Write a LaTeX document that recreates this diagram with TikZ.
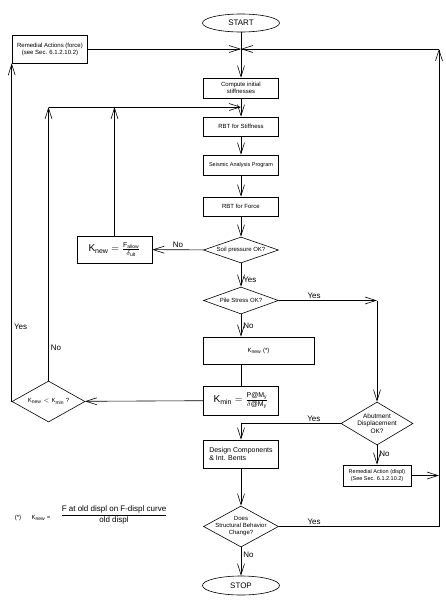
\documentclass[tikz,border=0pt]{standalone}
\usepackage{fontspec}
\setmainfont{Liberation Sans}
\usepackage{amsmath}
\usetikzlibrary{shapes.geometric,arrows.meta}

\newcommand{\sz}[2]{\fontsize{#1}{#2}\selectfont}

\begin{document}
\begin{tikzpicture}[x=1pt,y=-1pt,
  line width=0.6pt,
  >={Straight Barb[length=11pt,width=7pt]},
  block/.style={draw, rectangle, minimum width=75pt, minimum height=20pt,
    inner sep=1pt, align=center, font=\sz{6}{7}},
  decision/.style={draw, diamond, minimum width=75pt, minimum height=27pt,
    inner sep=0pt},
  dtext/.style={align=center, font=\sz{6}{7}, inner sep=0pt},
  terminal/.style={draw, ellipse, minimum width=77pt, minimum height=18pt,
    inner sep=0pt, font=\sz{8}{9}},
  tag/.style={font=\sz{8}{9}, inner sep=2pt},
  ]
  \useasboundingbox (0,0) rectangle (446,600);

  % main column
  \node[terminal] (start) at (241,23) {START};
  \node[block, minimum height=28pt] (remforce) at (50,49)
    {Remedial Actions (force)\\(see Sec. 6.1.2.10.2)};
  \node[block] (compute) at (241,88) {Compute initial\\stiffnesses};
  \node[block, minimum height=19pt] (rbts) at (241,126.5) {RBT for Stiffness};
  \node[block, font=\sz{5.5}{6.5}] (seismic) at (241,165) {Seismic Analysis Program};
  \node[block, minimum height=19pt] (rbtf) at (241,206.5) {RBT for Force};
  \node[decision, minimum height=26pt,
    label={[dtext]center:Soil pressure OK?}] (soil) at (241,250) {};
  \node[block, minimum height=27pt, font=\sz{10}{12}] (knew) at (114.5,249.5)
    {$\text{K}_{\text{new}} = \frac{\text{F}_{\text{allow}}}{\delta_{\text{ult}}}$};
  \node[decision, label={[dtext]center:Pile Stress OK?}] (pile) at (241,300.5) {};
  \node[block, minimum width=111pt, minimum height=27pt] (knewstar) at (258.5,350.5)
    {$\text{K}_{\text{new}}$ (*)};
  \node[block, minimum height=29pt, font=\sz{10}{12}] (kmin) at (241,400.5)
    {$\text{K}_{\text{min}} = \frac{\text{P@M}_{\text{y}}}{\delta\text{@M}_{\text{y}}}$};
  \node[decision, minimum width=73pt, minimum height=41pt,
    label={[dtext]center:$\text{K}_{\text{new}} < \text{K}_{\text{min}}$ ?}] (kcheck) at (48.5,401.5) {};
  \node[decision, minimum width=72pt, minimum height=43pt,
    label={[dtext, font=\sz{6.5}{7.5}]center:Abutment\\Displacement\\OK?}] (abut) at (377,423.5) {};
  \node[block, minimum height=28pt, align=left, font=\sz{7}{8}] (design) at (241,454)
    {Design Components\\\& Int. Bents};
  \node[block, minimum width=68pt, minimum height=21pt, font=\sz{5.5}{6.5}] (remdisp) at (377,475.5)
    {Remedial Action (displ)\\(See Sec. 6.1.2.10.2)};
  \node[decision, minimum height=41pt,
    label={[dtext]center:Does\\Structural Behavior\\Change?}] (struct) at (241,526.5) {};
  \node[terminal, minimum height=19pt] (stop) at (241,585.5) {STOP};

  % footnote
  \node[font=\sz{6}{7}] (fnmark) at (18,518) {(*)};
  \node[font=\sz{6}{7}] (fnk) at (41,518) {$\text{K}_{\text{new}}$ =};
  \node[font=\sz{8}{10}] (fnfrac) at (114,515)
    {$\dfrac{\text{F at old displ on F-displ curve}}{\text{old displ}}$};

  % corners of the loops
  \coordinate (topin) at (241,49);
  \coordinate (loopin) at (241,107);
  \coordinate (rcorner) at (439,49);
  \coordinate (pcorner) at (377,300.5);

  % connectors
  \draw[->] (start) -- (compute);
  \draw[->] (remforce) -- (topin);
  \draw[->] (rcorner) -- (topin);
  \draw[->] (compute) -- (rbts);
  \draw[->] (rbts) -- (seismic);
  \draw[->] (seismic) -- (rbtf);
  \draw[->] (rbtf) -- (soil);
  \draw[->] (soil) -- node[tag, above] {No} (knew);
  \draw[->] (soil) -- node[tag, pos=0.7, right] {Yes} (pile);
  \draw[->] (pile) -- node[tag, pos=0.36, above] {Yes} (pcorner);
  \draw[->] (pcorner) -- (abut);
  \draw[->] (pile) -- node[tag, right] {No} (pile.south |- knewstar.north);
  \draw (kmin.north |- knewstar.south) -- (kmin);
  \draw[->] (kmin) -- (kcheck);
  \draw[->] (kcheck.north) -- node[tag, pos=0.12, right] {No} (kcheck.north |- loopin);
  \draw[->] (kcheck.north |- loopin) -- (loopin);
  \draw[->] (knew) -- (knew.north |- loopin);
  \draw[->] (kcheck.west) -- node[tag, pos=0.22, right] {Yes} (kcheck.west |- remforce.south);
  \draw[->] (abut.west) -- node[tag, pos=0.27, above] {Yes} (abut.west -| design.north) -- (design);
  \draw[->] (abut) -- node[tag, pos=0.45, right] {No} (remdisp);
  \draw[->] (remdisp) -- (remdisp.east -| rcorner);
  \draw[->] (design) -- (struct);
  \draw[->] (struct) -- node[tag, pos=0.22, above] {Yes} (struct.east -| rcorner) -- (rcorner);
  \draw[->] (struct) -- node[tag, pos=0.25, right] {No} (stop);
\end{tikzpicture}
\end{document}
